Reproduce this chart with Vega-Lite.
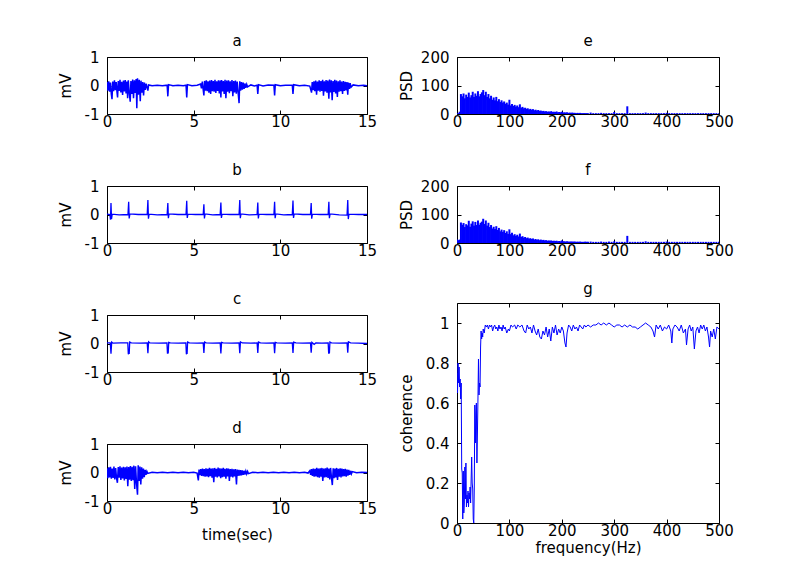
{
"$schema": "https://vega.github.io/schema/vega-lite/v6.json",
"background": "white",
"padding": {"left": 57, "top": 33, "right": 5, "bottom": 5},
"config": {
  "view": {"stroke": "black", "strokeWidth": 1},
  "font": "DejaVu Sans",
  "axis": {"domain": false, "grid": false, "ticks": true, "tickSize": -4, "tickColor": "black", "labelColor": "black", "titleColor": "black", "labelFont": "DejaVu Sans", "labelFontSize": 15, "titleFont": "DejaVu Sans", "titleFontSize": 15, "titleFontWeight": "normal", "labelFlush": false, "format": "~f", "labelExpr": "replace(datum.label, '\u2212', '-')"},
  "axisX": {"labelPadding": 4, "titlePadding": 4},
  "axisY": {"labelPadding": 12, "titlePadding": 4, "minExtent": 30, "maxExtent": 30},
  "title": {"font": "DejaVu Sans", "fontSize": 15, "fontWeight": "normal", "color": "black", "offset": 1, "anchor": "middle", "frame": "group"}
},
"datasets": {
"a": [
{"t":0.00,"v":0.12},{"t":0.05,"v":-0.18},{"t":0.10,"v":0.15},{"t":0.15,"v":-0.22},{"t":0.20,"v":0.10},{"t":0.25,"v":-0.30},{"t":0.29,"v":-0.48},{"t":0.33,"v":0.14},{"t":0.38,"v":-0.20},{"t":0.43,"v":0.18},{"t":0.48,"v":-0.16},{"t":0.53,"v":0.12},{"t":0.58,"v":-0.25},{"t":0.61,"v":-0.42},{"t":0.65,"v":0.16},{"t":0.70,"v":-0.19},{"t":0.75,"v":0.20},{"t":0.80,"v":-0.24},{"t":0.85,"v":0.13},{"t":0.90,"v":-0.33},{"t":0.95,"v":0.17},{"t":1.00,"v":-0.21},{"t":1.05,"v":0.19},{"t":1.10,"v":-0.28},{"t":1.15,"v":0.14},{"t":1.19,"v":-0.45},{"t":1.23,"v":0.18},{"t":1.28,"v":-0.23},{"t":1.34,"v":-0.57},{"t":1.38,"v":0.16},{"t":1.43,"v":-0.30},{"t":1.48,"v":0.21},{"t":1.53,"v":-0.45},{"t":1.58,"v":0.18},{"t":1.63,"v":-0.26},{"t":1.68,"v":0.23},{"t":1.72,"v":-0.80},{"t":1.76,"v":0.25},{"t":1.81,"v":-0.32},{"t":1.86,"v":0.20},{"t":1.92,"v":-0.55},{"t":1.96,"v":0.17},{"t":2.01,"v":-0.25},{"t":2.06,"v":0.12},{"t":2.11,"v":-0.35},{"t":2.16,"v":0.10},{"t":2.21,"v":-0.15},{"t":2.26,"v":0.06},{"t":2.31,"v":-0.06},
{"t":2.36,"v":-0.18},{"t":2.40,"v":0.02},{"t":2.6,"v":-0.01},{"t":2.9,"v":0.01},{"t":3.2,"v":-0.01},{"t":3.47,"v":0.01},{"t":3.51,"v":-0.38},{"t":3.55,"v":0.03},{"t":3.8,"v":-0.01},{"t":4.1,"v":0.01},{"t":4.4,"v":-0.01},{"t":4.56,"v":0.01},{"t":4.60,"v":-0.42},{"t":4.64,"v":0.03},{"t":4.9,"v":-0.01},{"t":5.2,"v":0.01},
{"t":5.40,"v":0.05},{"t":5.45,"v":-0.10},{"t":5.50,"v":0.14},{"t":5.55,"v":-0.15},{"t":5.59,"v":-0.35},{"t":5.63,"v":0.16},{"t":5.68,"v":-0.18},{"t":5.73,"v":0.18},{"t":5.78,"v":-0.20},{"t":5.83,"v":0.15},{"t":5.88,"v":-0.25},{"t":5.93,"v":0.17},{"t":5.98,"v":-0.30},{"t":6.03,"v":0.19},{"t":6.08,"v":-0.20},{"t":6.13,"v":0.16},{"t":6.18,"v":-0.22},{"t":6.23,"v":0.20},{"t":6.28,"v":-0.26},{"t":6.33,"v":0.15},{"t":6.38,"v":-0.19},{"t":6.43,"v":0.18},{"t":6.48,"v":-0.28},{"t":6.53,"v":0.17},{"t":6.57,"v":-0.42},{"t":6.61,"v":0.19},{"t":6.66,"v":-0.21},{"t":6.71,"v":0.16},{"t":6.76,"v":-0.30},{"t":6.81,"v":0.20},{"t":6.86,"v":-0.45},{"t":6.91,"v":0.17},{"t":6.96,"v":-0.22},{"t":7.01,"v":0.18},{"t":7.06,"v":-0.27},{"t":7.11,"v":0.15},{"t":7.16,"v":-0.20},{"t":7.21,"v":0.19},{"t":7.26,"v":-0.38},{"t":7.31,"v":0.16},{"t":7.36,"v":-0.24},{"t":7.41,"v":0.17},{"t":7.46,"v":-0.29},{"t":7.51,"v":0.14},{"t":7.56,"v":-0.22},{"t":7.62,"v":-0.62},{"t":7.66,"v":0.15},{"t":7.71,"v":-0.18},{"t":7.76,"v":0.12},{"t":7.81,"v":-0.15},{"t":7.86,"v":0.10},{"t":7.91,"v":-0.12},{"t":7.96,"v":0.07},{"t":8.01,"v":-0.08},{"t":8.06,"v":0.04},{"t":8.11,"v":-0.05},
{"t":8.3,"v":0.02},{"t":8.5,"v":-0.02},{"t":8.66,"v":0.01},{"t":8.70,"v":-0.30},{"t":8.74,"v":0.03},{"t":9.0,"v":-0.02},{"t":9.3,"v":0.02},{"t":9.63,"v":0.01},{"t":9.67,"v":-0.35},{"t":9.71,"v":0.03},{"t":10.0,"v":-0.01},{"t":10.3,"v":0.01},{"t":10.69,"v":0.01},{"t":10.73,"v":-0.30},{"t":10.77,"v":0.03},{"t":11.1,"v":-0.01},{"t":11.4,"v":0.01},{"t":11.7,"v":-0.02},
{"t":11.80,"v":-0.25},{"t":11.84,"v":0.12},{"t":11.89,"v":-0.16},{"t":11.94,"v":0.15},{"t":11.99,"v":-0.20},{"t":12.04,"v":0.17},{"t":12.09,"v":-0.32},{"t":12.14,"v":0.14},{"t":12.19,"v":-0.18},{"t":12.24,"v":0.18},{"t":12.29,"v":-0.22},{"t":12.34,"v":0.16},{"t":12.39,"v":-0.19},{"t":12.44,"v":0.20},{"t":12.49,"v":-0.36},{"t":12.54,"v":0.15},{"t":12.59,"v":-0.21},{"t":12.64,"v":0.19},{"t":12.69,"v":-0.25},{"t":12.74,"v":0.17},{"t":12.80,"v":-0.46},{"t":12.84,"v":0.21},{"t":12.89,"v":-0.24},{"t":12.94,"v":0.18},{"t":12.99,"v":-0.52},{"t":13.04,"v":0.16},{"t":13.09,"v":-0.23},{"t":13.14,"v":0.20},{"t":13.19,"v":-0.28},{"t":13.24,"v":0.17},{"t":13.29,"v":-0.40},{"t":13.34,"v":0.15},{"t":13.39,"v":-0.22},{"t":13.44,"v":0.18},{"t":13.49,"v":-0.20},{"t":13.54,"v":0.14},{"t":13.59,"v":-0.30},{"t":13.64,"v":0.16},{"t":13.69,"v":-0.19},{"t":13.74,"v":0.13},{"t":13.79,"v":-0.17},{"t":13.84,"v":0.12},{"t":13.89,"v":-0.32},{"t":13.93,"v":0.10},{"t":13.98,"v":-0.12},{"t":14.03,"v":0.08},{"t":14.08,"v":-0.06},{"t":14.2,"v":0.02},{"t":14.5,"v":-0.01},{"t":14.8,"v":0.01},{"t":15.0,"v":-0.01}
],
"b": [
{"t":0,"v":0.01},{"t":0.17,"v":0.0},{"t":0.20,"v":-0.18},{"t":0.23,"v":0.40},{"t":0.26,"v":-0.16},{"t":0.30,"v":0.01},{"t":0.7,"v":-0.01},{"t":1.21,"v":0.0},{"t":1.25,"v":0.45},{"t":1.28,"v":-0.14},{"t":1.32,"v":0.02},{"t":1.8,"v":0.0},{"t":2.32,"v":0.0},{"t":2.36,"v":0.51},{"t":2.39,"v":-0.15},{"t":2.43,"v":0.01},{"t":2.9,"v":-0.01},{"t":3.47,"v":0.0},{"t":3.51,"v":0.40},{"t":3.54,"v":-0.13},{"t":3.58,"v":0.02},{"t":4.1,"v":0.0},{"t":4.56,"v":0.0},{"t":4.60,"v":0.48},{"t":4.63,"v":-0.12},{"t":4.67,"v":0.01},{"t":5.1,"v":0.0},{"t":5.55,"v":0.0},{"t":5.59,"v":0.36},{"t":5.62,"v":-0.14},{"t":5.66,"v":0.02},{"t":6.1,"v":-0.01},{"t":6.53,"v":0.0},{"t":6.57,"v":0.42},{"t":6.60,"v":-0.12},{"t":6.64,"v":0.01},{"t":7.1,"v":0.0},{"t":7.62,"v":0.0},{"t":7.66,"v":0.51},{"t":7.69,"v":-0.13},{"t":7.73,"v":0.02},{"t":8.2,"v":-0.01},{"t":8.66,"v":0.0},{"t":8.70,"v":0.42},{"t":8.73,"v":-0.14},{"t":8.77,"v":0.01},{"t":9.2,"v":0.0},{"t":9.63,"v":0.0},{"t":9.67,"v":0.45},{"t":9.70,"v":-0.13},{"t":9.74,"v":0.02},{"t":10.2,"v":-0.01},{"t":10.69,"v":0.0},{"t":10.73,"v":0.49},{"t":10.76,"v":-0.12},{"t":10.80,"v":0.02},{"t":11.3,"v":0.0},{"t":11.74,"v":0.0},{"t":11.78,"v":0.40},{"t":11.81,"v":-0.15},{"t":11.85,"v":0.01},{"t":12.3,"v":0.0},{"t":12.76,"v":0.0},{"t":12.80,"v":0.45},{"t":12.83,"v":-0.13},{"t":12.87,"v":0.02},{"t":13.4,"v":-0.01},{"t":13.85,"v":-0.02},{"t":13.89,"v":0.51},{"t":13.92,"v":-0.16},{"t":13.96,"v":0.01},{"t":14.5,"v":0.0},{"t":15,"v":0.0}
],
"c": [
{"t":0,"v":0.02},{"t":0.19,"v":0.02},{"t":0.23,"v":-0.36},{"t":0.27,"v":0.05},{"t":0.35,"v":0.01},{"t":0.8,"v":0.02},{"t":1.20,"v":0.02},{"t":1.23,"v":-0.38},{"t":1.26,"v":-0.25},{"t":1.28,"v":-0.37},{"t":1.31,"v":0.05},{"t":1.4,"v":0.02},{"t":1.9,"v":0.01},{"t":2.32,"v":0.02},{"t":2.36,"v":-0.34},{"t":2.40,"v":0.06},{"t":2.48,"v":0.02},{"t":3.0,"v":0.01},{"t":3.46,"v":0.02},{"t":3.49,"v":-0.36},{"t":3.51,"v":-0.22},{"t":3.53,"v":-0.35},{"t":3.56,"v":0.04},{"t":3.65,"v":0.02},{"t":4.1,"v":0.01},{"t":4.55,"v":0.02},{"t":4.58,"v":-0.38},{"t":4.60,"v":-0.25},{"t":4.62,"v":-0.37},{"t":4.65,"v":0.05},{"t":4.75,"v":0.02},{"t":5.2,"v":0.01},{"t":5.55,"v":0.02},{"t":5.59,"v":-0.33},{"t":5.63,"v":0.05},{"t":5.72,"v":0.02},{"t":6.1,"v":0.01},{"t":6.53,"v":0.02},{"t":6.57,"v":-0.35},{"t":6.61,"v":0.04},{"t":6.7,"v":0.02},{"t":7.2,"v":0.01},{"t":7.62,"v":0.02},{"t":7.66,"v":-0.34},{"t":7.70,"v":0.06},{"t":7.8,"v":0.02},{"t":8.3,"v":0.01},{"t":8.66,"v":0.02},{"t":8.70,"v":-0.33},{"t":8.74,"v":0.05},{"t":8.85,"v":0.02},{"t":9.2,"v":0.01},{"t":9.63,"v":0.02},{"t":9.67,"v":-0.34},{"t":9.71,"v":0.04},{"t":9.8,"v":0.02},{"t":10.3,"v":0.01},{"t":10.69,"v":0.02},{"t":10.73,"v":-0.33},{"t":10.77,"v":0.05},{"t":10.9,"v":0.02},{"t":11.3,"v":0.01},{"t":11.74,"v":0.02},{"t":11.78,"v":-0.32},{"t":11.82,"v":0.04},{"t":11.95,"v":-0.03},{"t":12.05,"v":0.02},{"t":12.4,"v":0.01},{"t":12.76,"v":0.02},{"t":12.79,"v":-0.36},{"t":12.81,"v":-0.24},{"t":12.83,"v":-0.35},{"t":12.86,"v":0.05},{"t":12.95,"v":0.02},{"t":13.4,"v":0.01},{"t":13.85,"v":0.02},{"t":13.89,"v":-0.32},{"t":13.93,"v":0.06},{"t":14.05,"v":0.02},{"t":14.5,"v":0.01},{"t":15,"v":0.0}
],
"d": [
{"t":0.00,"v":0.15},{"t":0.05,"v":-0.20},{"t":0.10,"v":0.18},{"t":0.15,"v":-0.17},{"t":0.20,"v":0.20},{"t":0.25,"v":-0.22},{"t":0.30,"v":0.14},{"t":0.35,"v":-0.19},{"t":0.40,"v":0.21},{"t":0.45,"v":-0.24},{"t":0.50,"v":0.16},{"t":0.55,"v":-0.20},{"t":0.60,"v":-0.36},{"t":0.65,"v":0.19},{"t":0.70,"v":-0.18},{"t":0.75,"v":0.22},{"t":0.80,"v":-0.26},{"t":0.85,"v":0.17},{"t":0.90,"v":-0.21},{"t":0.95,"v":0.20},{"t":1.00,"v":-0.28},{"t":1.05,"v":0.18},{"t":1.10,"v":-0.23},{"t":1.15,"v":0.21},{"t":1.20,"v":-0.48},{"t":1.25,"v":0.19},{"t":1.30,"v":-0.25},{"t":1.35,"v":0.23},{"t":1.40,"v":-0.30},{"t":1.45,"v":0.20},{"t":1.50,"v":-0.27},{"t":1.55,"v":0.24},{"t":1.60,"v":-0.58},{"t":1.65,"v":0.22},{"t":1.70,"v":-0.35},{"t":1.76,"v":-0.78},{"t":1.80,"v":0.25},{"t":1.85,"v":-0.30},{"t":1.90,"v":0.21},{"t":1.95,"v":-0.42},{"t":2.00,"v":0.18},{"t":2.05,"v":-0.22},{"t":2.10,"v":0.14},{"t":2.15,"v":-0.16},{"t":2.20,"v":0.09},{"t":2.25,"v":-0.08},{"t":2.30,"v":0.04},{"t":2.35,"v":-0.03},
{"t":2.6,"v":0.01},{"t":2.9,"v":-0.01},{"t":3.2,"v":0.01},{"t":3.5,"v":-0.01},{"t":3.8,"v":0.01},{"t":4.1,"v":-0.01},{"t":4.4,"v":0.01},{"t":4.7,"v":-0.01},{"t":5.0,"v":0.01},{"t":5.2,"v":-0.02},
{"t":5.27,"v":-0.28},{"t":5.31,"v":0.10},{"t":5.36,"v":-0.09},{"t":5.41,"v":0.12},{"t":5.46,"v":-0.12},{"t":5.51,"v":0.14},{"t":5.56,"v":-0.13},{"t":5.61,"v":0.12},{"t":5.66,"v":-0.15},{"t":5.71,"v":0.15},{"t":5.76,"v":-0.14},{"t":5.81,"v":0.13},{"t":5.86,"v":-0.16},{"t":5.91,"v":0.16},{"t":5.96,"v":-0.13},{"t":6.01,"v":0.14},{"t":6.06,"v":-0.18},{"t":6.11,"v":0.15},{"t":6.16,"v":-0.34},{"t":6.21,"v":0.16},{"t":6.26,"v":-0.15},{"t":6.31,"v":0.13},{"t":6.36,"v":-0.17},{"t":6.41,"v":0.17},{"t":6.46,"v":-0.14},{"t":6.51,"v":0.15},{"t":6.56,"v":-0.20},{"t":6.61,"v":0.14},{"t":6.66,"v":-0.16},{"t":6.71,"v":0.16},{"t":6.76,"v":-0.15},{"t":6.81,"v":0.13},{"t":6.86,"v":-0.22},{"t":6.91,"v":0.15},{"t":6.96,"v":-0.14},{"t":7.01,"v":0.14},{"t":7.06,"v":-0.30},{"t":7.11,"v":0.12},{"t":7.16,"v":-0.15},{"t":7.21,"v":0.13},{"t":7.26,"v":-0.17},{"t":7.31,"v":0.11},{"t":7.36,"v":-0.14},{"t":7.41,"v":0.12},{"t":7.47,"v":-0.42},{"t":7.51,"v":0.10},{"t":7.56,"v":-0.12},{"t":7.61,"v":0.09},{"t":7.66,"v":-0.11},{"t":7.71,"v":0.08},{"t":7.76,"v":-0.10},{"t":7.81,"v":0.07},{"t":7.86,"v":-0.08},{"t":7.91,"v":0.06},{"t":7.96,"v":-0.07},{"t":8.01,"v":0.05},{"t":8.06,"v":-0.05},{"t":8.11,"v":0.04},{"t":8.16,"v":-0.04},
{"t":8.4,"v":0.01},{"t":8.7,"v":-0.01},{"t":9.0,"v":0.01},{"t":9.3,"v":-0.01},{"t":9.6,"v":0.01},{"t":9.9,"v":-0.01},{"t":10.2,"v":0.01},{"t":10.5,"v":-0.01},{"t":10.8,"v":0.01},{"t":11.1,"v":-0.01},{"t":11.4,"v":0.01},{"t":11.6,"v":-0.02},
{"t":11.70,"v":0.06},{"t":11.75,"v":-0.08},{"t":11.80,"v":0.12},{"t":11.85,"v":-0.12},{"t":11.90,"v":0.14},{"t":11.95,"v":-0.15},{"t":12.00,"v":0.13},{"t":12.05,"v":-0.14},{"t":12.10,"v":0.16},{"t":12.15,"v":-0.16},{"t":12.20,"v":0.14},{"t":12.25,"v":-0.18},{"t":12.30,"v":0.15},{"t":12.35,"v":-0.15},{"t":12.40,"v":0.16},{"t":12.45,"v":-0.30},{"t":12.50,"v":0.14},{"t":12.55,"v":-0.17},{"t":12.60,"v":0.15},{"t":12.65,"v":-0.16},{"t":12.70,"v":0.17},{"t":12.75,"v":-0.19},{"t":12.80,"v":0.14},{"t":12.85,"v":-0.24},{"t":12.90,"v":0.16},{"t":12.95,"v":-0.18},{"t":13.00,"v":-0.44},{"t":13.05,"v":0.15},{"t":13.10,"v":-0.20},{"t":13.15,"v":0.14},{"t":13.20,"v":-0.17},{"t":13.25,"v":0.16},{"t":13.30,"v":-0.26},{"t":13.35,"v":0.13},{"t":13.40,"v":-0.15},{"t":13.45,"v":0.15},{"t":13.50,"v":-0.17},{"t":13.55,"v":0.14},{"t":13.60,"v":-0.14},{"t":13.65,"v":0.12},{"t":13.70,"v":-0.13},{"t":13.75,"v":0.13},{"t":13.80,"v":-0.15},{"t":13.85,"v":0.10},{"t":13.90,"v":-0.11},{"t":13.95,"v":0.09},{"t":14.00,"v":-0.08},{"t":14.05,"v":0.06},{"t":14.10,"v":-0.05},{"t":14.15,"v":0.03},{"t":14.4,"v":-0.01},{"t":14.7,"v":0.01},{"t":15,"v":0.0}
],
"e": [
{"f":0,"p":2},{"f":2.5,"p":3},{"f":5,"p":8},{"f":7.5,"p":70},{"f":10,"p":62},{"f":12.5,"p":72},{"f":15,"p":55},{"f":17.5,"p":68},{"f":20,"p":60},{"f":22.5,"p":75},{"f":25,"p":58},{"f":27.5,"p":66},{"f":30,"p":78},{"f":32.5,"p":60},{"f":35,"p":72},{"f":37.5,"p":64},{"f":40,"p":80},{"f":42.5,"p":62},{"f":45,"p":70},{"f":47.5,"p":76},{"f":50,"p":84},{"f":52.5,"p":66},{"f":55,"p":78},{"f":57.5,"p":60},{"f":60,"p":70},{"f":62.5,"p":55},{"f":65,"p":64},{"f":67.5,"p":50},{"f":70,"p":58},{"f":72.5,"p":48},{"f":75,"p":60},{"f":77.5,"p":45},{"f":80,"p":52},{"f":82.5,"p":42},{"f":85,"p":48},{"f":87.5,"p":40},{"f":90,"p":44},{"f":92.5,"p":36},{"f":95,"p":40},{"f":97.5,"p":33},{"f":100,"p":50},{"f":102.5,"p":30},{"f":105,"p":35},{"f":107.5,"p":28},{"f":110,"p":32},{"f":112.5,"p":26},{"f":115,"p":30},{"f":117.5,"p":24},{"f":120,"p":34},{"f":122.5,"p":22},{"f":125,"p":25},{"f":127.5,"p":20},{"f":130,"p":22},{"f":132.5,"p":18},{"f":135,"p":20},{"f":137.5,"p":16},{"f":140,"p":18},{"f":142.5,"p":15},{"f":145,"p":17},{"f":147.5,"p":13},{"f":150,"p":15},{"f":152.5,"p":12},{"f":155,"p":14},{"f":157.5,"p":11},{"f":160,"p":12},{"f":162.5,"p":10},{"f":165,"p":11},{"f":167.5,"p":9},{"f":170,"p":10},{"f":172.5,"p":8},{"f":175,"p":9},{"f":177.5,"p":8},{"f":180,"p":10},{"f":182.5,"p":7},{"f":185,"p":8},{"f":187.5,"p":7},{"f":190,"p":9},{"f":192.5,"p":6},{"f":195,"p":7},{"f":197.5,"p":6},{"f":200,"p":8},{"f":202.5,"p":5},{"f":205,"p":6},{"f":207.5,"p":5},{"f":210,"p":6},{"f":212.5,"p":4},{"f":215,"p":5},{"f":217.5,"p":4},{"f":220,"p":5},{"f":222.5,"p":4},{"f":225,"p":4},{"f":227.5,"p":3},{"f":230,"p":4},{"f":232.5,"p":3},{"f":235,"p":4},{"f":237.5,"p":3},{"f":240,"p":3},{"f":242.5,"p":3},{"f":245,"p":3},{"f":247.5,"p":3},
{"f":250,"p":3},{"f":255,"p":5},{"f":260,"p":3},{"f":265,"p":3},{"f":270,"p":3},{"f":275,"p":4},{"f":280,"p":3},{"f":285,"p":3},{"f":290,"p":3},{"f":295,"p":3},{"f":300,"p":7},{"f":305,"p":3},{"f":310,"p":3},{"f":315,"p":3},{"f":320,"p":3},{"f":325,"p":27},{"f":330,"p":3},{"f":335,"p":3},{"f":340,"p":3},{"f":345,"p":3},{"f":350,"p":3},{"f":355,"p":3},{"f":360,"p":5},{"f":365,"p":3},{"f":370,"p":3},{"f":375,"p":3},{"f":380,"p":3},{"f":385,"p":3},{"f":390,"p":3},{"f":395,"p":3},{"f":400,"p":4},{"f":405,"p":3},{"f":410,"p":3},{"f":415,"p":3},{"f":420,"p":3},{"f":425,"p":3},{"f":430,"p":3},{"f":435,"p":3},{"f":440,"p":3},{"f":445,"p":3},{"f":450,"p":3},{"f":455,"p":3},{"f":460,"p":3},{"f":465,"p":3},{"f":470,"p":3},{"f":475,"p":3},{"f":480,"p":3},{"f":485,"p":3},{"f":490,"p":3},{"f":495,"p":3},{"f":500,"p":3}
],
"f": [
{"f":0,"p":12},{"f":2.5,"p":10},{"f":5,"p":12},{"f":7.5,"p":72},{"f":10,"p":64},{"f":12.5,"p":70},{"f":15,"p":56},{"f":17.5,"p":66},{"f":20,"p":62},{"f":22.5,"p":78},{"f":25,"p":57},{"f":27.5,"p":68},{"f":30,"p":76},{"f":32.5,"p":61},{"f":35,"p":74},{"f":37.5,"p":63},{"f":40,"p":79},{"f":42.5,"p":64},{"f":45,"p":71},{"f":47.5,"p":75},{"f":50,"p":85},{"f":52.5,"p":67},{"f":55,"p":79},{"f":57.5,"p":61},{"f":60,"p":71},{"f":62.5,"p":56},{"f":65,"p":63},{"f":67.5,"p":51},{"f":70,"p":57},{"f":72.5,"p":49},{"f":75,"p":59},{"f":77.5,"p":46},{"f":80,"p":53},{"f":82.5,"p":41},{"f":85,"p":47},{"f":87.5,"p":39},{"f":90,"p":45},{"f":92.5,"p":35},{"f":95,"p":41},{"f":97.5,"p":32},{"f":100,"p":48},{"f":102.5,"p":31},{"f":105,"p":36},{"f":107.5,"p":27},{"f":110,"p":31},{"f":112.5,"p":25},{"f":115,"p":29},{"f":117.5,"p":23},{"f":120,"p":33},{"f":122.5,"p":21},{"f":125,"p":24},{"f":127.5,"p":19},{"f":130,"p":21},{"f":132.5,"p":17},{"f":135,"p":19},{"f":137.5,"p":15},{"f":140,"p":17},{"f":142.5,"p":14},{"f":145,"p":16},{"f":147.5,"p":12},{"f":150,"p":14},{"f":152.5,"p":11},{"f":155,"p":13},{"f":157.5,"p":10},{"f":160,"p":12},{"f":162.5,"p":10},{"f":165,"p":11},{"f":167.5,"p":9},{"f":170,"p":10},{"f":172.5,"p":8},{"f":175,"p":9},{"f":177.5,"p":8},{"f":180,"p":9},{"f":182.5,"p":7},{"f":185,"p":8},{"f":187.5,"p":7},{"f":190,"p":8},{"f":192.5,"p":6},{"f":195,"p":7},{"f":197.5,"p":6},{"f":200,"p":9},{"f":202.5,"p":6},{"f":205,"p":6},{"f":207.5,"p":5},{"f":210,"p":6},{"f":212.5,"p":5},{"f":215,"p":5},{"f":217.5,"p":5},{"f":220,"p":5},{"f":222.5,"p":5},{"f":225,"p":5},{"f":227.5,"p":4},{"f":230,"p":5},{"f":232.5,"p":4},{"f":235,"p":5},{"f":237.5,"p":4},{"f":240,"p":4},{"f":242.5,"p":4},{"f":245,"p":5},{"f":247.5,"p":4},
{"f":250,"p":4},{"f":255,"p":5},{"f":260,"p":4},{"f":265,"p":4},{"f":270,"p":4},{"f":275,"p":5},{"f":280,"p":4},{"f":285,"p":4},{"f":290,"p":5},{"f":295,"p":4},{"f":300,"p":6},{"f":305,"p":4},{"f":310,"p":4},{"f":315,"p":4},{"f":320,"p":4},{"f":325,"p":25},{"f":330,"p":4},{"f":335,"p":4},{"f":340,"p":4},{"f":345,"p":4},{"f":350,"p":4},{"f":355,"p":4},{"f":360,"p":6},{"f":365,"p":4},{"f":370,"p":4},{"f":375,"p":4},{"f":380,"p":4},{"f":385,"p":4},{"f":390,"p":4},{"f":395,"p":4},{"f":400,"p":5},{"f":405,"p":4},{"f":410,"p":4},{"f":415,"p":4},{"f":420,"p":4},{"f":425,"p":4},{"f":430,"p":4},{"f":435,"p":4},{"f":440,"p":4},{"f":445,"p":4},{"f":450,"p":4},{"f":455,"p":4},{"f":460,"p":4},{"f":465,"p":4},{"f":470,"p":4},{"f":475,"p":4},{"f":480,"p":4},{"f":485,"p":4},{"f":490,"p":4},{"f":495,"p":4},{"f":500,"p":4}
],
"g": [
{"f":0,"c":0.75},{"f":1,"c":0.65},{"f":2,"c":0.80},{"f":3,"c":0.70},{"f":4,"c":0.78},{"f":5,"c":0.68},{"f":6,"c":0.72},{"f":7,"c":0.62},{"f":8,"c":0.70},{"f":9,"c":0.27},{"f":10,"c":0.25},{"f":11,"c":0.02},{"f":12,"c":0.26},{"f":13,"c":0.05},{"f":14,"c":0.10},{"f":15,"c":0.28},{"f":16,"c":0.12},{"f":17,"c":0.30},{"f":18,"c":0.08},{"f":19,"c":0.14},{"f":20,"c":0.10},{"f":21,"c":0.16},{"f":22,"c":0.08},{"f":23,"c":0.15},{"f":24,"c":0.12},{"f":25,"c":0.18},{"f":26,"c":0.10},{"f":27,"c":0.22},{"f":28,"c":0.33},{"f":29,"c":0.20},{"f":30,"c":0.17},{"f":31,"c":0.02},{"f":32,"c":0.0},{"f":33,"c":0.18},{"f":34,"c":0.59},{"f":35,"c":0.40},{"f":36,"c":0.55},{"f":37,"c":0.60},{"f":38,"c":0.30},{"f":39,"c":0.45},{"f":40,"c":0.62},{"f":41,"c":0.82},{"f":42,"c":0.64},{"f":43,"c":0.70},{"f":44,"c":0.68},{"f":45,"c":0.88},{"f":46,"c":0.96},{"f":47,"c":0.92},{"f":48,"c":0.95},{"f":49,"c":0.93},{"f":50,"c":0.97},{"f":52,"c":0.95},{"f":54,"c":0.99},{"f":56,"c":0.98},{"f":58,"c":0.99},{"f":60,"c":0.97},{"f":62,"c":0.99},{"f":64,"c":0.98},{"f":66,"c":0.99},{"f":68,"c":0.96},{"f":70,"c":0.98},{"f":72,"c":0.99},{"f":74,"c":0.97},{"f":76,"c":0.98},{"f":78,"c":0.96},{"f":80,"c":0.99},{"f":82,"c":0.97},{"f":84,"c":0.98},{"f":86,"c":0.96},{"f":88,"c":0.99},{"f":90,"c":0.97},{"f":92,"c":0.98},{"f":95,"c":0.95},{"f":98,"c":0.97},{"f":100,"c":0.96},{"f":103,"c":0.99},{"f":106,"c":0.98},{"f":110,"c":0.99},{"f":113,"c":0.97},{"f":116,"c":0.99},{"f":120,"c":0.98},{"f":124,"c":0.99},{"f":128,"c":0.96},{"f":131,"c":0.95},{"f":134,"c":0.99},{"f":137,"c":0.97},{"f":140,"c":0.98},{"f":143,"c":0.95},{"f":146,"c":0.99},{"f":149,"c":0.96},{"f":152,"c":0.94},{"f":155,"c":0.97},{"f":158,"c":0.93},{"f":161,"c":0.92},{"f":164,"c":0.96},{"f":167,"c":0.94},{"f":170,"c":0.98},{"f":173,"c":0.93},{"f":176,"c":0.97},{"f":179,"c":0.91},{"f":182,"c":0.98},{"f":185,"c":0.95},{"f":188,"c":0.99},{"f":191,"c":0.94},{"f":194,"c":0.97},{"f":197,"c":0.95},{"f":200,"c":0.98},{"f":203,"c":0.96},{"f":206,"c":0.90},{"f":208,"c":0.88},{"f":210,"c":0.95},{"f":213,"c":0.99},{"f":216,"c":0.98},{"f":219,"c":0.96},{"f":222,"c":0.99},{"f":225,"c":0.97},{"f":228,"c":0.98},{"f":231,"c":0.96},{"f":234,"c":0.99},{"f":237,"c":0.98},{"f":240,"c":0.97},{"f":243,"c":0.99},{"f":246,"c":0.98},{"f":250,"c":0.99},{"f":255,"c":0.98},{"f":260,"c":0.99},{"f":265,"c":0.99},{"f":270,"c":1.0},{"f":275,"c":0.99},{"f":280,"c":1.0},{"f":285,"c":0.99},{"f":290,"c":1.0},{"f":295,"c":0.99},{"f":300,"c":0.98},{"f":305,"c":0.99},{"f":310,"c":0.99},{"f":315,"c":0.98},{"f":320,"c":0.99},{"f":325,"c":0.98},{"f":330,"c":0.99},{"f":335,"c":0.98},{"f":340,"c":0.98},{"f":345,"c":0.97},{"f":350,"c":0.98},{"f":355,"c":0.99},{"f":360,"c":1.0},{"f":365,"c":0.99},{"f":370,"c":0.98},{"f":374,"c":0.96},{"f":377,"c":0.93},{"f":380,"c":0.99},{"f":384,"c":0.97},{"f":388,"c":0.99},{"f":392,"c":0.96},{"f":396,"c":0.98},{"f":400,"c":0.97},{"f":404,"c":0.99},{"f":408,"c":0.96},{"f":410,"c":0.90},{"f":412,"c":0.97},{"f":416,"c":0.99},{"f":420,"c":0.98},{"f":424,"c":0.96},{"f":428,"c":0.99},{"f":432,"c":0.95},{"f":436,"c":0.97},{"f":438,"c":0.89},{"f":441,"c":0.97},{"f":444,"c":0.99},{"f":447,"c":0.96},{"f":450,"c":0.98},{"f":453,"c":0.87},{"f":456,"c":0.96},{"f":459,"c":0.98},{"f":462,"c":0.95},{"f":465,"c":0.99},{"f":468,"c":0.97},{"f":471,"c":0.99},{"f":474,"c":0.96},{"f":477,"c":0.98},{"f":480,"c":0.93},{"f":482,"c":0.88},{"f":484,"c":0.96},{"f":487,"c":0.93},{"f":490,"c":0.97},{"f":493,"c":0.92},{"f":496,"c":0.98},{"f":500,"c":0.97}
]
},
"spacing": 20,
"hconcat": [
  {"spacing": 32, "vconcat": [
    {"width": 260, "height": 57, "title": "a", "data": {"name": "a"}, "resolve": {"axis": {"x": "independent", "y": "independent"}},
     "layer": [
      {"mark": {"type": "line", "color": "#0000ff", "strokeWidth": 1.5, "clip": true},
       "encoding": {
         "x": {"field": "t", "type": "quantitative", "scale": {"domain": [0, 15], "nice": false}, "axis": {"values": [0, 5, 10, 15], "title": null}},
         "y": {"field": "v", "type": "quantitative", "scale": {"domain": [-1, 1], "nice": false}, "axis": {"values": [-1, 0, 1], "title": "mV"}}}},
      {"mark": {"type": "line", "strokeOpacity": 0, "clip": true},
       "encoding": {
         "x": {"field": "t", "type": "quantitative", "axis": {"orient": "top", "values": [0, 5, 10, 15], "labels": false, "title": null, "minExtent": 0, "maxExtent": 0}},
         "y": {"field": "v", "type": "quantitative", "axis": {"orient": "right", "values": [-1, 0, 1], "labels": false, "title": null, "minExtent": 0, "maxExtent": 0}}}}
     ]},
    {"width": 260, "height": 57, "title": "b", "data": {"name": "b"}, "resolve": {"axis": {"x": "independent", "y": "independent"}},
     "layer": [
      {"mark": {"type": "line", "color": "#0000ff", "strokeWidth": 1.3, "clip": true},
       "encoding": {
         "x": {"field": "t", "type": "quantitative", "scale": {"domain": [0, 15], "nice": false}, "axis": {"values": [0, 5, 10, 15], "title": null}},
         "y": {"field": "v", "type": "quantitative", "scale": {"domain": [-1, 1], "nice": false}, "axis": {"values": [-1, 0, 1], "title": "mV"}}}},
      {"mark": {"type": "line", "strokeOpacity": 0, "clip": true},
       "encoding": {
         "x": {"field": "t", "type": "quantitative", "axis": {"orient": "top", "values": [0, 5, 10, 15], "labels": false, "title": null, "minExtent": 0, "maxExtent": 0}},
         "y": {"field": "v", "type": "quantitative", "axis": {"orient": "right", "values": [-1, 0, 1], "labels": false, "title": null, "minExtent": 0, "maxExtent": 0}}}}
     ]},
    {"width": 260, "height": 57, "title": "c", "data": {"name": "c"}, "resolve": {"axis": {"x": "independent", "y": "independent"}},
     "layer": [
      {"mark": {"type": "line", "color": "#0000ff", "strokeWidth": 1.3, "clip": true},
       "encoding": {
         "x": {"field": "t", "type": "quantitative", "scale": {"domain": [0, 15], "nice": false}, "axis": {"values": [0, 5, 10, 15], "title": null}},
         "y": {"field": "v", "type": "quantitative", "scale": {"domain": [-1, 1], "nice": false}, "axis": {"values": [-1, 0, 1], "title": "mV"}}}},
      {"mark": {"type": "line", "strokeOpacity": 0, "clip": true},
       "encoding": {
         "x": {"field": "t", "type": "quantitative", "axis": {"orient": "top", "values": [0, 5, 10, 15], "labels": false, "title": null, "minExtent": 0, "maxExtent": 0}},
         "y": {"field": "v", "type": "quantitative", "axis": {"orient": "right", "values": [-1, 0, 1], "labels": false, "title": null, "minExtent": 0, "maxExtent": 0}}}}
     ]},
    {"width": 260, "height": 57, "title": "d", "data": {"name": "d"}, "resolve": {"axis": {"x": "independent", "y": "independent"}},
     "layer": [
      {"mark": {"type": "line", "color": "#0000ff", "strokeWidth": 1.5, "clip": true},
       "encoding": {
         "x": {"field": "t", "type": "quantitative", "scale": {"domain": [0, 15], "nice": false}, "axis": {"values": [0, 5, 10, 15], "title": "time(sec)", "titlePadding": 11}},
         "y": {"field": "v", "type": "quantitative", "scale": {"domain": [-1, 1], "nice": false}, "axis": {"values": [-1, 0, 1], "title": "mV"}}}},
      {"mark": {"type": "line", "strokeOpacity": 0, "clip": true},
       "encoding": {
         "x": {"field": "t", "type": "quantitative", "axis": {"orient": "top", "values": [0, 5, 10, 15], "labels": false, "title": null, "minExtent": 0, "maxExtent": 0}},
         "y": {"field": "v", "type": "quantitative", "axis": {"orient": "right", "values": [-1, 0, 1], "labels": false, "title": null, "minExtent": 0, "maxExtent": 0}}}}
     ]}
  ]},
  {"spacing": 22, "vconcat": [
    {"spacing": 32, "vconcat": [
      {"width": 262, "height": 57, "title": "e", "data": {"name": "e"}, "resolve": {"axis": {"x": "independent", "y": "independent"}},
       "layer": [
        {"mark": {"type": "rule", "color": "#0000ff", "strokeWidth": 2, "clip": true},
         "encoding": {
           "x": {"field": "f", "type": "quantitative", "scale": {"domain": [0, 500], "nice": false}, "axis": {"values": [0, 100, 200, 300, 400, 500], "title": null}},
           "y": {"field": "p", "type": "quantitative", "scale": {"domain": [0, 200], "nice": false}, "axis": {"values": [0, 100, 200], "title": "PSD", "titlePadding": 13}},
           "y2": {"datum": 0}}},
        {"mark": {"type": "line", "strokeOpacity": 0, "clip": true},
         "encoding": {
           "x": {"field": "f", "type": "quantitative", "axis": {"orient": "top", "values": [0, 100, 200, 300, 400, 500], "labels": false, "title": null, "minExtent": 0, "maxExtent": 0}},
           "y": {"field": "p", "type": "quantitative", "axis": {"orient": "right", "values": [0, 100, 200], "labels": false, "title": null, "minExtent": 0, "maxExtent": 0}}}}
       ]},
      {"width": 262, "height": 57, "title": "f", "data": {"name": "f"}, "resolve": {"axis": {"x": "independent", "y": "independent"}},
       "layer": [
        {"mark": {"type": "rule", "color": "#0000ff", "strokeWidth": 2, "clip": true},
         "encoding": {
           "x": {"field": "f", "type": "quantitative", "scale": {"domain": [0, 500], "nice": false}, "axis": {"values": [0, 100, 200, 300, 400, 500], "title": null}},
           "y": {"field": "p", "type": "quantitative", "scale": {"domain": [0, 200], "nice": false}, "axis": {"values": [0, 100, 200], "title": "PSD", "titlePadding": 13}},
           "y2": {"datum": 0}}},
        {"mark": {"type": "line", "strokeOpacity": 0, "clip": true},
         "encoding": {
           "x": {"field": "f", "type": "quantitative", "axis": {"orient": "top", "values": [0, 100, 200, 300, 400, 500], "labels": false, "title": null, "minExtent": 0, "maxExtent": 0}},
           "y": {"field": "p", "type": "quantitative", "axis": {"orient": "right", "values": [0, 100, 200], "labels": false, "title": null, "minExtent": 0, "maxExtent": 0}}}}
       ]}
    ]},
    {"vconcat": [
      {"width": 262, "height": 220, "title": {"text": "g", "offset": 6}, "data": {"name": "g"}, "resolve": {"axis": {"x": "independent", "y": "independent"}},
       "layer": [
        {"mark": {"type": "line", "color": "#0000ff", "strokeWidth": 1, "clip": true},
         "encoding": {
           "x": {"field": "f", "type": "quantitative", "scale": {"domain": [0, 500], "nice": false}, "axis": {"values": [0, 100, 200, 300, 400, 500], "title": "frequency(Hz)", "titlePadding": 2}},
           "y": {"field": "c", "type": "quantitative", "scale": {"domain": [0, 1.1], "nice": false, "zero": false}, "axis": {"values": [0, 0.2, 0.4, 0.6, 0.8, 1], "title": "coherence", "titlePadding": 13}}}},
        {"mark": {"type": "line", "strokeOpacity": 0, "clip": true},
         "encoding": {
           "x": {"field": "f", "type": "quantitative", "axis": {"orient": "top", "values": [0, 100, 200, 300, 400, 500], "labels": false, "title": null, "minExtent": 0, "maxExtent": 0}},
           "y": {"field": "c", "type": "quantitative", "axis": {"orient": "right", "values": [0, 0.2, 0.4, 0.6, 0.8, 1], "labels": false, "title": null, "minExtent": 0, "maxExtent": 0}}}}
       ]}
    ]}
  ]}
]
}
